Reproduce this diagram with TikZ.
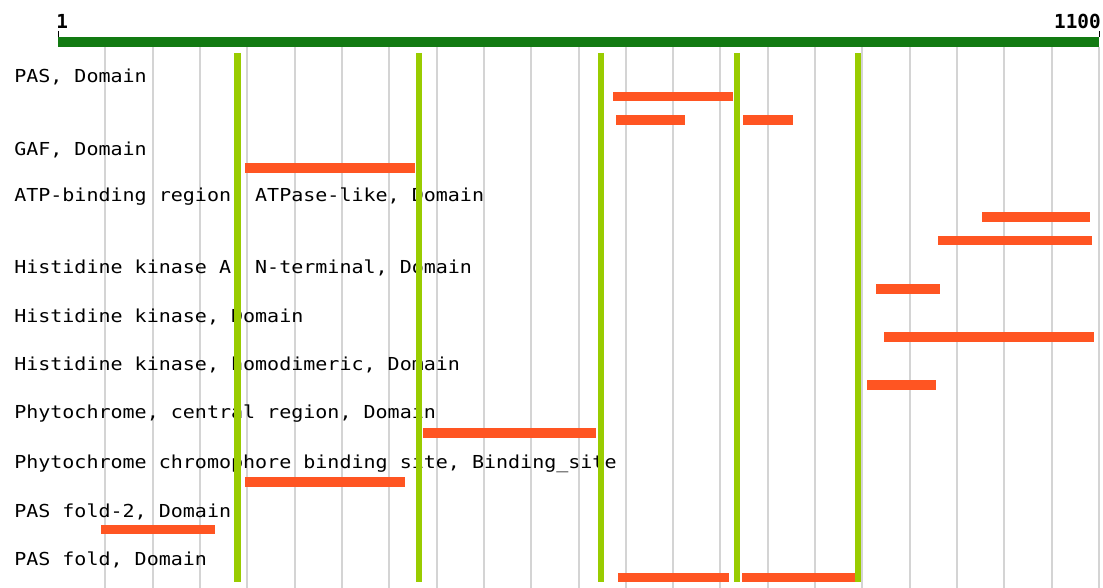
\documentclass[tikz,border=0pt]{standalone}
\usepackage{fontspec}
\newfontfamily\featfont[FakeStretch=1.12]{DejaVu Sans Mono}
\newfontfamily\scalefont{DejaVu Sans Mono Bold}
\definecolor{scalegreen}{HTML}{127A12}
\definecolor{markgreen}{HTML}{99CC00}
\definecolor{hitorange}{HTML}{FF5522}
\definecolor{gridgrey}{HTML}{D4D4D4}

\begin{document}
\begin{tikzpicture}[x=0.75pt,y=-0.75pt,
    featlabel/.style={anchor=base west,inner sep=0pt,font=\featfont\fontsize{13.4}{13.4}\selectfont},
    scalelabel/.style={inner sep=0pt,font=\scalefont\fontsize{14.5}{14.5}\selectfont},
    hit/.style={fill=hitorange,draw=none},
    marker/.style={draw=markgreen,line width=4.6pt}]
    \useasboundingbox (0,0) rectangle (1103,588);
    \fill[white] (0,0) rectangle (1103,588);

    % grid every 50 residues
    \foreach \k in {1,...,22}
        \draw[gridgrey,line width=1.5pt] ({58+47.318*\k},47) -- ({58+47.318*\k},588);

    % scale bar
    \fill[scalegreen] (58,37) rectangle (1099,47);
    \draw[black,line width=0.75pt] (58,31) -- (58,37);
    \draw[black,line width=0.75pt] (1099,31) -- (1099,37);
    \node[scalelabel,anchor=base west] (start) at (56,29) {1};
    \node[scalelabel,anchor=base east] (end) at (1101,29) {1100};

    % feature names
    \node[featlabel] (pas)   at (14,82.5) {PAS, Domain};
    \node[featlabel] (gaf)   at (14,155.5) {GAF, Domain};
    \node[featlabel] (atp)   at (14,201) {ATP-binding region, ATPase-like, Domain};
    \node[featlabel] (hka)   at (14,273) {Histidine kinase A, N-terminal, Domain};
    \node[featlabel] (hk)    at (14,322) {Histidine kinase, Domain};
    \node[featlabel] (hkd)   at (14,370) {Histidine kinase, homodimeric, Domain};
    \node[featlabel] (cent)  at (14,418) {Phytochrome, central region, Domain};
    \node[featlabel] (chrom) at (14,468) {Phytochrome chromophore binding site, Binding\_site};
    \node[featlabel] (fold2) at (14,517) {PAS fold-2, Domain};
    \node[featlabel] (fold)  at (14,565) {PAS fold, Domain};

    % hits
    \fill[hit] (613,92) rectangle (733,101);
    \fill[hit] (616,115) rectangle (685,125);
    \fill[hit] (743,115) rectangle (793,125);
    \fill[hit] (245,163) rectangle (415,173);
    \fill[hit] (982,212) rectangle (1090,222);
    \fill[hit] (938,236) rectangle (1092,245);
    \fill[hit] (876,284) rectangle (940,294);
    \fill[hit] (884,332) rectangle (1094,342);
    \fill[hit] (867,380) rectangle (936,390);
    \fill[hit] (423,428) rectangle (596,438);
    \fill[hit] (245,477) rectangle (405,487);
    \fill[hit] (101,525) rectangle (215,534);
    \fill[hit] (618,573) rectangle (729,582);
    \fill[hit] (742,573) rectangle (855,582);

    % highlighted positions
    \foreach \x in {237.5,419,601,737,858}
        \draw[marker] (\x,53) -- (\x,582);
\end{tikzpicture}
\end{document}
